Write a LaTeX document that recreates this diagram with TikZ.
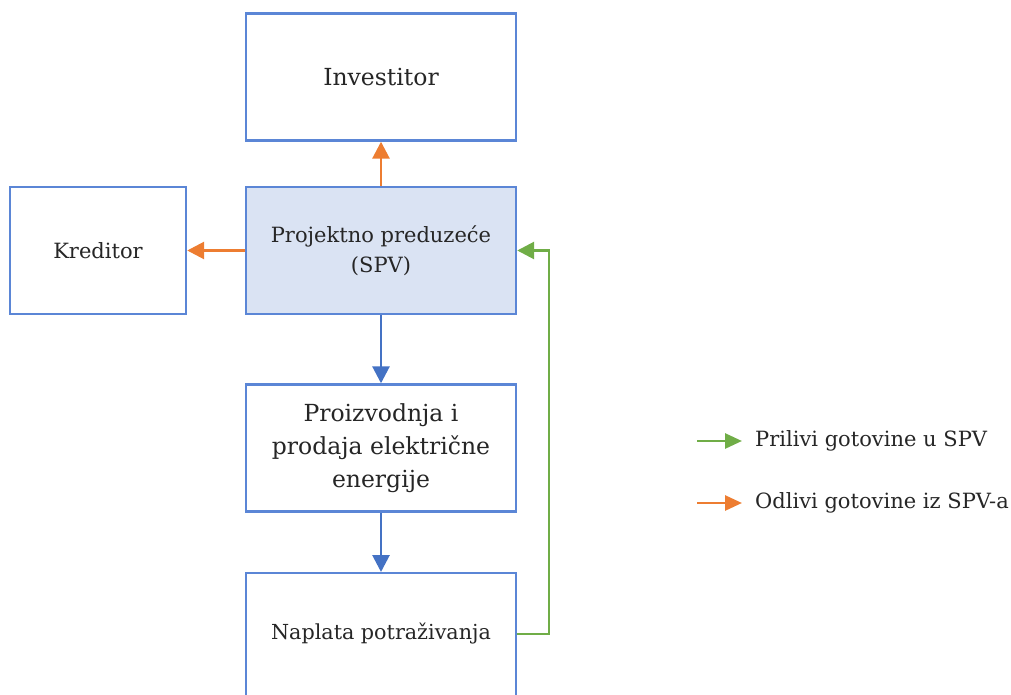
\documentclass[tikz,border=0pt]{standalone}
\usepackage{fontspec}
\setmainfont{DejaVu Serif}
\usetikzlibrary{arrows.meta}
\definecolor{boxblue}{HTML}{5B86D6}
\definecolor{arrblue}{HTML}{4472C4}
\definecolor{spvfill}{HTML}{DAE3F3}
\definecolor{orng}{HTML}{ED7D31}
\definecolor{grn}{HTML}{70AD47}
\definecolor{txt}{HTML}{262626}
\tikzset{
  box/.style={draw=boxblue, line width=2.4pt, fill=white, minimum width=270pt, minimum height=127pt, inner sep=0pt, align=center, text=txt},
  arr/.style={line width=2.8pt, -{Triangle[length=17pt,width=17pt]}},
  legarr/.style={line width=2.8pt, -{Triangle[length=17pt,width=15pt]}},
}
\begin{document}
\begin{tikzpicture}[x=1pt,y=-1pt]
\useasboundingbox (0,0) rectangle (1011,695);
\node[box, font=\fontsize{23.5}{28}\selectfont] (inv) at (381,77) {Investitor};
\node[box, fill=spvfill, font=\fontsize{21}{30}\selectfont] (spv) at (381,250.5) {Projektno preduzeće\\(SPV)};
\node[box, minimum width=176pt, font=\fontsize{21}{26}\selectfont] (kred) at (98,250.5) {Kreditor};
\node[box, font=\fontsize{23.5}{33}\selectfont] (proiz) at (381,448) {Proizvodnja i\\prodaja električne\\energije};
\begin{scope}
\clip (0,0) rectangle (1011,695);
\node[box, minimum height=130pt, anchor=north] (napl) at (381,572) {};
\end{scope}
\node[font=\fontsize{20.7}{26}\selectfont, text=txt] (napltxt) at (381,634) {Naplata potraživanja};
\draw[arr, orng] (spv.north) -- (inv.south);
\draw[arr, orng] (spv.west) -- (kred.east);
\draw[arr, arrblue] (spv.south) -- (proiz.north);
\draw[arr, arrblue] (proiz.south) -- (napl.north);
\coordinate (gc) at (549,634);
\draw[arr, grn] (napl.east |- gc) -- (gc) |- (spv.east);
\coordinate (l1a) at (697,441);
\coordinate (l1b) at (742,441);
\coordinate (l2a) at (697,503);
\coordinate (l2b) at (742,503);
\draw[legarr, grn] (l1a) -- (l1b);
\draw[legarr, orng] (l2a) -- (l2b);
\node[anchor=west, inner sep=0pt, text=txt, font=\fontsize{21}{26}\selectfont] (lg1) at (755,441) {Prilivi gotovine u SPV};
\node[anchor=west, inner sep=0pt, text=txt, font=\fontsize{21}{26}\selectfont] (lg2) at (755,503) {Odlivi gotovine iz SPV-a};
\end{tikzpicture}
\end{document}
